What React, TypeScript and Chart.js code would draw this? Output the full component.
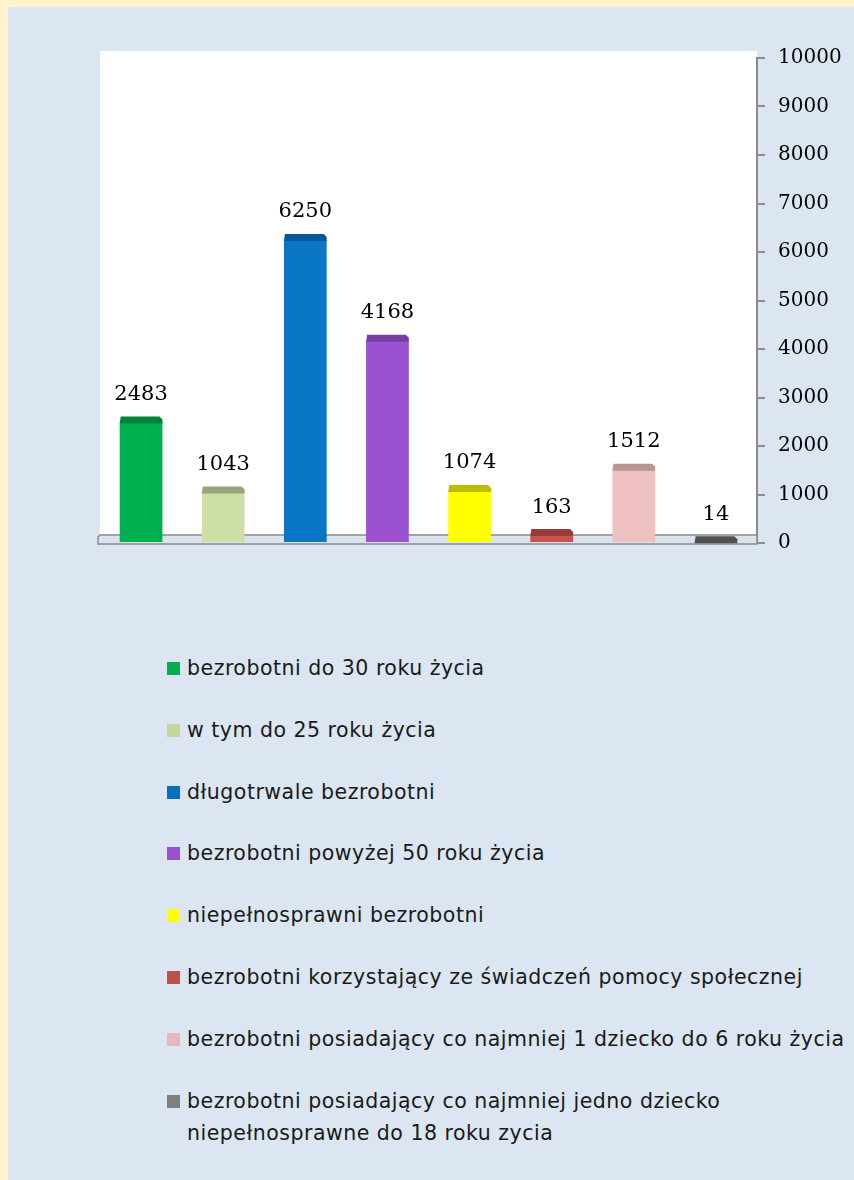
import React, { useEffect, useRef } from "react";
import { Chart, registerables } from "chart.js";

Chart.register(...registerables);

const categories = [
  "bezrobotni do 30 roku życia",
  "w tym do 25 roku życia",
  "długotrwale bezrobotni",
  "bezrobotni powyżej 50 roku życia",
  "niepełnosprawni bezrobotni",
  "bezrobotni korzystający ze świadczeń pomocy społecznej",
  "bezrobotni posiadający co najmniej 1 dziecko do 6 roku życia",
  "bezrobotni posiadający co najmniej jedno dziecko\nniepełnosprawne do 18 roku zycia",
];
const values = [2483, 1043, 6250, 4168, 1074, 163, 1512, 14];
const barColors = ["#00b050", "#cddfa7", "#0a76c6", "#9a50cf", "#ffff00", "#c9514e", "#efc0c0", "#686868"];
const capColors = ["#00843b", "#98a47a", "#05579a", "#7540a0", "#bcbc00", "#993b39", "#b79595", "#505050"];
const legendColors = ["#00b050", "#c4d79b", "#0070c0", "#9a50cf", "#ffff00", "#c0504d", "#e6b9b8", "#7f7f7f"];
const yMin = 0;
const yMax = 10000;
const yStep = 1000;

const decorPlugin = {
  id: "decor",
  beforeDraw(chart: any) {
    const { ctx, chartArea } = chart;
    ctx.save();
    ctx.fillStyle = "#ffffff";
    ctx.fillRect(chartArea.left, chartArea.top - 7, chartArea.right - chartArea.left, chartArea.bottom - chartArea.top);
    ctx.restore();
  },
  beforeDatasetsDraw(chart: any) {
    const { ctx, chartArea } = chart;
    const l = chartArea.left;
    const r = chartArea.right;
    const b = chartArea.bottom;
    ctx.save();
    ctx.beginPath();
    ctx.moveTo(l, b - 8);
    ctx.lineTo(r, b - 8);
    ctx.lineTo(r, b + 1);
    ctx.lineTo(l - 2, b + 1);
    ctx.lineTo(l - 2, b - 6);
    ctx.closePath();
    ctx.fillStyle = "#dbe3ee";
    ctx.fill();
    ctx.lineWidth = 1.5;
    ctx.strokeStyle = "#8a8a8a";
    ctx.stroke();
    ctx.restore();
  },
  afterDatasetsDraw(chart: any) {
    const { ctx } = chart;
    const meta = chart.getDatasetMeta(0);
    ctx.save();
    meta.data.forEach((bar: any, i: number) => {
      const w = bar.width;
      const x0 = bar.x - w / 2;
      const x1 = bar.x + w / 2;
      const y = bar.y;
      ctx.beginPath();
      ctx.moveTo(x0, y + 1);
      ctx.lineTo(x0 + 1, y - 6);
      ctx.lineTo(x1 - 3, y - 6);
      ctx.lineTo(x1, y - 3);
      ctx.lineTo(x1, y + 1);
      ctx.closePath();
      ctx.fillStyle = capColors[i];
      ctx.fill();
      ctx.fillStyle = "#000000";
      ctx.font = "21px 'DejaVu Serif'";
      ctx.textAlign = "center";
      ctx.textBaseline = "middle";
      ctx.fillText(String(values[i]), bar.x, y - 28);
    });
    ctx.restore();
  },
};

export default function App() {
  const ref = useRef<HTMLCanvasElement | null>(null);

  useEffect(() => {
    if (!ref.current) return;
    const chart = new Chart(ref.current, {
      type: "bar",
      data: {
        labels: categories,
        datasets: [
          {
            data: values,
            backgroundColor: barColors,
            borderWidth: 0,
            categoryPercentage: 1,
            barPercentage: 0.52,
          },
        ],
      },
      options: {
        animation: false,
        responsive: false,
        maintainAspectRatio: false,
        layout: { padding: { left: 92, top: 51, bottom: 54, right: 0 } },
        plugins: { legend: { display: false }, tooltip: { enabled: false } },
        scales: {
          x: { display: false },
          y: {
            position: "right",
            min: yMin,
            max: yMax,
            ticks: {
              stepSize: yStep,
              color: "#000000",
              font: { family: "'DejaVu Serif'", size: 20 },
              padding: 13,
              callback: (v: any) => String(v),
            },
            grid: {
              drawOnChartArea: false,
              drawTicks: true,
              tickLength: 8,
              color: "#8c8c8c",
              lineWidth: 2,
            },
            border: { display: true, color: "#8c8c8c", width: 2 },
            afterFit(scale: any) {
              scale.width = 97;
            },
          },
        },
      },
      plugins: [decorPlugin],
    });
    return () => chart.destroy();
  }, []);

  return (
    <div style={{ position: "absolute", left: 0, top: 0, width: 854, height: 1180, background: "#fff2cc", overflow: "hidden" }}>
      <div style={{ position: "absolute", left: 8, top: 7, width: 846, height: 1173, background: "#dce6f2" }}>
        <canvas ref={ref} width={846} height={590} style={{ display: "block", width: 846, height: 590 }} />
        <div
          style={{
            position: "absolute",
            left: 159,
            top: 645,
            display: "flex",
            flexDirection: "column",
            gap: 29.8,
            fontFamily: "'DejaVu Sans', sans-serif",
            fontSize: 20.5,
            letterSpacing: 0.5,
            lineHeight: "32px",
            color: "#1a1a1a",
          }}
        >
          {categories.map((c, i) => (
            <div key={i} style={{ display: "flex", alignItems: "flex-start" }}>
              <span
                style={{
                  display: "inline-block",
                  width: 13,
                  height: 13,
                  marginTop: 10,
                  marginRight: 7,
                  background: legendColors[i],
                  flex: "none",
                }}
              />
              <span style={{ whiteSpace: "pre-line" }}>{c}</span>
            </div>
          ))}
        </div>
      </div>
    </div>
  );
}
